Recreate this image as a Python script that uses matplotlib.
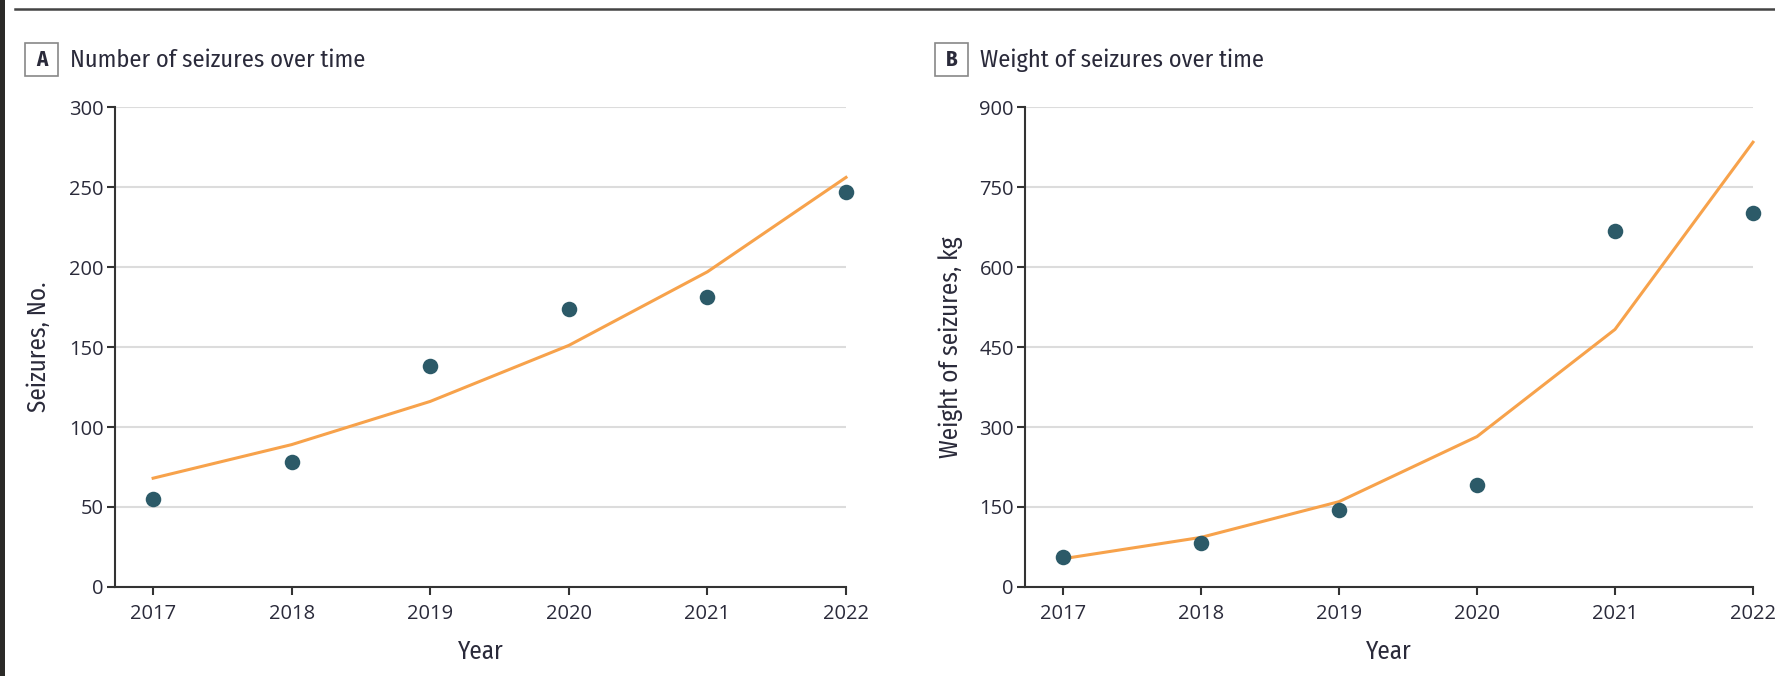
import numpy as np
import matplotlib
matplotlib.use('Agg')
import matplotlib.pyplot as plt
from matplotlib.patches import Rectangle
from matplotlib.lines import Line2D

plt.rcParams['font.family'] = ['Fira Sans Condensed', 'PT Sans Narrow', 'Roboto Condensed',
                               'Liberation Sans Narrow', 'DejaVu Sans']
tick_family = ['Open Sans', 'DejaVu Sans']

# data
years = [2017, 2018, 2019, 2020, 2021, 2022]
count_obs = [55, 78, 138, 174, 181, 247]
count_fit = [68, 89, 116, 151, 197, 256]
weight_obs = [57, 82, 145, 192, 668, 702]
weight_fit = [53, 93, 160, 282, 483, 834]

count_ticks = [0, 50, 100, 150, 200, 250, 300]
weight_ticks = [0, 150, 300, 450, 600, 750, 900]

dot_col = '#2c5a68'
line_col = '#f7a24b'
axis_col = '#333333'
text_col = '#2a2a3a'

W, H = 1775, 676
fig = plt.figure(figsize=(W / 100, H / 100), dpi=100)


def px_axes(left, right, top, bottom):
    return fig.add_axes([left / W, 1 - bottom / H, (right - left) / W, (bottom - top) / H])


def panel(ax, obs, fit, ticks, ylabel, ylab_x, letter, title, box_x, title_x):
    ax.plot(years, fit, color=line_col, lw=2.2, zorder=3, clip_on=False)
    ax.scatter(years, obs, s=125, color=dot_col, zorder=4, clip_on=False, linewidths=0)
    ax.set_xlim(2016.725, 2022)
    ax.set_ylim(ticks[0], ticks[-1])
    ax.set_xticks(years)
    ax.set_yticks(ticks)
    for s in ['top', 'right']:
        ax.spines[s].set_visible(False)
    for s in ['left', 'bottom']:
        ax.spines[s].set_color(axis_col)
        ax.spines[s].set_linewidth(1.5)
    ax.tick_params(axis='both', colors=axis_col, width=1.5, length=6, labelsize=14.5,
                   labelcolor=text_col, labelfontfamily=tick_family)
    ax.tick_params(axis='x', pad=6)
    ax.tick_params(axis='y', pad=2)
    ax.yaxis.grid(True, color='#dcdcdc', lw=1.5)
    ax.set_axisbelow(True)
    ax.set_xlabel('Year', fontsize=18, color=text_col, labelpad=11)
    ax.set_ylabel(ylabel, fontsize=18, color=text_col)
    ax.yaxis.set_label_coords(ylab_x, 0.5)
    # panel letter box + title
    fig.patches.append(Rectangle((box_x / W, 1 - 76 / H), 33 / W, 33 / H,
                                 transform=fig.transFigure, facecolor='white',
                                 edgecolor='#888888', lw=1.2))
    fig.text((box_x + 16.5) / W, 1 - 60 / H, letter, fontsize=15, fontweight='bold',
             color=text_col, ha='center', va='center')
    fig.text(title_x / W, 1 - 60 / H, title, fontsize=17.5, color=text_col,
             ha='left', va='center')


axA = px_axes(115, 846, 107, 587)
panel(axA, count_obs, count_fit, count_ticks, 'Seizures, No.', -0.087, 'A',
      'Number of seizures over time', 25, 70)

axB = px_axes(1025, 1753, 107, 587)
panel(axB, weight_obs, weight_fit, weight_ticks, 'Weight of seizures, kg', -0.085, 'B',
      'Weight of seizures over time', 935, 980)

# frame bits of the page
fig.add_artist(Line2D([15 / W, 1], [1 - 9 / H, 1 - 9 / H], color='#444444', lw=1.8,
                      transform=fig.transFigure))
fig.patches.append(Rectangle((0, 0), 5 / W, 1, transform=fig.transFigure,
                             facecolor='#2b2a28', edgecolor='none'))

fig.savefig('out.png', dpi=100)
